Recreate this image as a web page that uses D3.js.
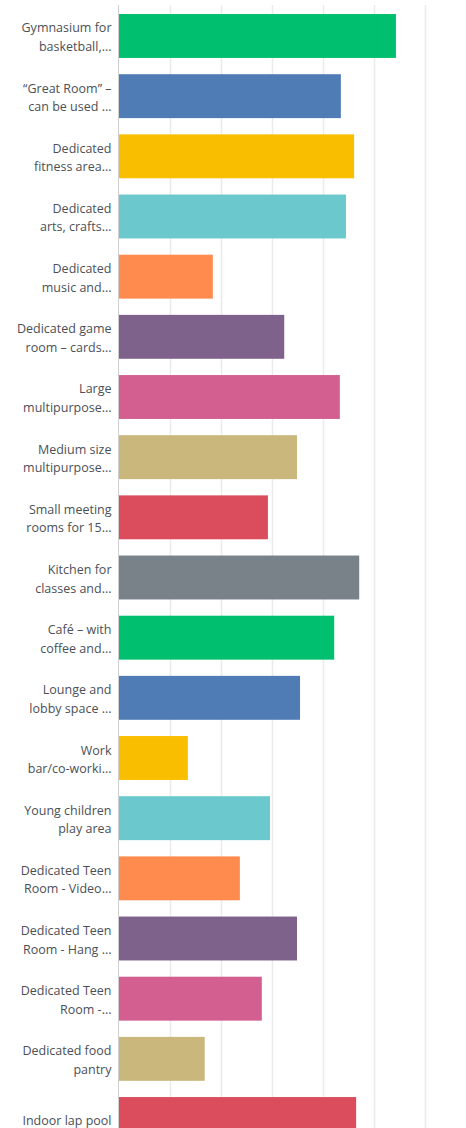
<!DOCTYPE html>
<html>
<head>
<meta charset="utf-8">
<script src="https://cdn.jsdelivr.net/npm/d3@7"></script>
<style>
  html, body { margin: 0; padding: 0; background: #fff; }
  svg { display: block; }
  .label { font-family: "Open Sans", "Noto Sans", sans-serif; font-size: 12.5px; fill: #4b5057; }
</style>
</head>
<body>
<svg id="chart" width="466" height="1128"></svg>
<script>
// Category labels (line breaks mark the wrapped lines)
const categories = [
  "Gymnasium for\nbasketball,...",
  "\u201CGreat Room\u201D \u2013\ncan be used ...",
  "Dedicated\nfitness area...",
  "Dedicated\narts, crafts...",
  "Dedicated\nmusic and...",
  "Dedicated game\nroom \u2013 cards...",
  "Large\nmultipurpose...",
  "Medium size\nmultipurpose...",
  "Small meeting\nrooms for 15...",
  "Kitchen for\nclasses and...",
  "Caf\u00E9 \u2013 with\ncoffee and...",
  "Lounge and\nlobby space ...",
  "Work\nbar/co-worki...",
  "Young children\nplay area",
  "Dedicated Teen\nRoom - Video...",
  "Dedicated Teen\nRoom - Hang ...",
  "Dedicated Teen\nRoom -...",
  "Dedicated food\npantry",
  "Indoor lap pool"
];

// Share of respondents (%)
const values = [54.3, 43.5, 46.1, 44.5, 18.4, 32.4, 43.3, 34.9, 29.2, 47.1,
                42.2, 35.5, 13.5, 29.6, 23.7, 34.9, 28.0, 16.8, 46.5];

const xTicks = [0, 10, 20, 30, 40, 50, 60];

const palette = ["#00BF6F", "#507CB6", "#F9BE00", "#6BC8CD", "#FF8B4F",
                 "#7F628B", "#D25F90", "#C9B77B", "#DB4D5C", "#798189"];

const svg = d3.select("#chart");
const marginLeft = 119, marginTop = 5;

const x = d3.scaleLinear().domain([0, 60]).range([marginLeft, marginLeft + 306]);
const y = d3.scaleBand()
  .domain(categories)
  .range([marginTop, marginTop + 1145])
  .paddingInner(0.27)
  .paddingOuter(0.15);

const gridBottom = marginTop + 1145;

// vertical gridlines
svg.append("g")
  .selectAll("line")
  .data(xTicks.slice(1))
  .join("line")
  .attr("x1", d => Math.round(x(d)) + 0.5)
  .attr("x2", d => Math.round(x(d)) + 0.5)
  .attr("y1", marginTop)
  .attr("y2", gridBottom)
  .attr("stroke", "#ebebeb")
  .attr("stroke-width", 1.5);

// bars
svg.append("g")
  .selectAll("rect")
  .data(values)
  .join("rect")
  .attr("x", x(0))
  .attr("y", (d, i) => y(categories[i]))
  .attr("width", d => x(d) - x(0))
  .attr("height", y.bandwidth())
  .attr("fill", (d, i) => palette[i % palette.length]);

// baseline
svg.append("line")
  .attr("x1", marginLeft - 0.5).attr("x2", marginLeft - 0.5)
  .attr("y1", marginTop).attr("y2", gridBottom)
  .attr("stroke", "#cfcfcf")
  .attr("stroke-width", 1);

// category labels, right aligned against the baseline
const labelX = 111.5;
const labels = svg.append("g")
  .selectAll("text")
  .data(categories)
  .join("text")
  .attr("class", "label")
  .attr("text-anchor", "end")
  .attr("x", labelX)
  .attr("y", d => y(d) + y.bandwidth() / 2);

labels.each(function(d) {
  const lines = d.split("\n");
  const t = d3.select(this);
  const lh = 18.5;
  const first = -((lines.length - 1) * lh) / 2 + 5.75;
  lines.forEach((ln, k) => {
    t.append("tspan")
      .attr("x", labelX)
      .attr("dy", k === 0 ? first : lh)
      .text(ln);
  });
});
</script>
</body>
</html>
